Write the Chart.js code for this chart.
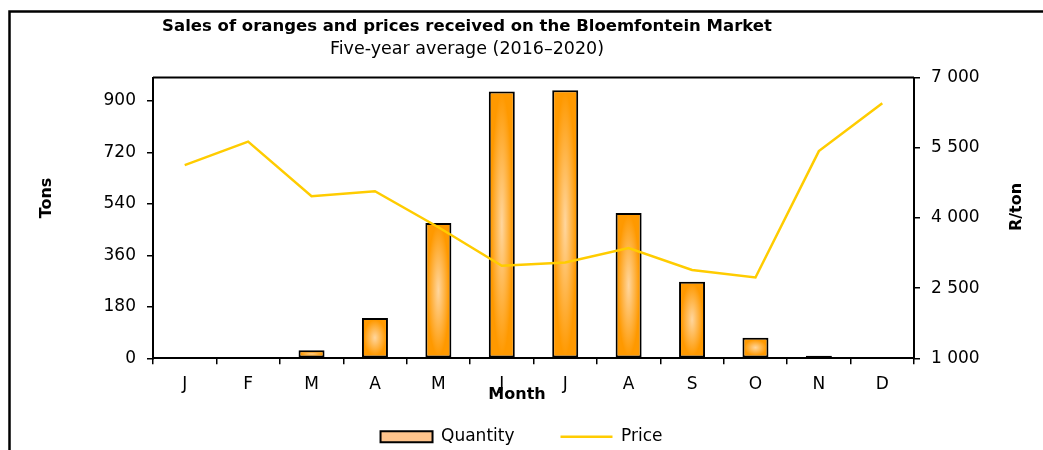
<!DOCTYPE html>
<html>
<head>
<meta charset="utf-8">
<script src="https://cdn.jsdelivr.net/npm/chart.js@4/dist/chart.umd.min.js"></script>
<style>
    html, body { margin: 0; padding: 0; background: #fff; overflow: hidden; }
    #wrap { width: 1043px; height: 450px; position: relative; }
</style>
</head>
<body>
<div id="wrap"><canvas id="orangeChart"></canvas></div>
<script>
// 数据
const months = ['J', 'F', 'M', 'A', 'M', 'J', 'J', 'A', 'S', 'O', 'N', 'D'];
const quantity = [3, 3, 28, 141, 473, 933, 937, 508, 268, 72, 9, 3];
const price = [5127, 5629, 4463, 4570, 3800, 2978, 3049, 3357, 2886, 2727, 5427, 6450];
const tonsTicks = [0, 180, 360, 540, 720, 900];
const randTicks = [1000, 2500, 4000, 5500, 7000];

const FONT = "'DejaVu Sans', sans-serif";

function spaced(v) {
    return String(v).replace(/\B(?=(\d{3})+(?!\d))/g, ' ');
}

// 柱子内部的径向渐变
const barGlow = {
    id: 'barGlow',
    afterDatasetDraw(chart, args) {
        if (args.index !== 0) return;
        const ctx = chart.ctx;
        args.meta.data.forEach(bar => {
            const w = bar.width - 4;
            const top = Math.min(bar.y, bar.base) + 2;
            const h = Math.abs(bar.base - bar.y) - 4;
            if (h < 3 || w < 3) return;
            ctx.save();
            ctx.beginPath();
            ctx.rect(bar.x - w / 2, top, w, h);
            ctx.clip();
            ctx.translate(bar.x, top + h / 2);
            ctx.scale(w / 2, h / 2);
            const g = ctx.createRadialGradient(0, 0, 0, 0, 0, 1);
            g.addColorStop(0, 'rgba(255, 214, 158, 1)');
            g.addColorStop(1, 'rgba(255, 214, 158, 0)');
            ctx.fillStyle = g;
            ctx.fillRect(-1, -1, 2, 2);
            ctx.restore();
        });
    }
};

// 图例上沿往上拉，和 x 轴区域重叠，底边不动
const legendNudge = {
    id: 'legendNudge',
    afterLayout(chart) {
        const lg = chart.legend;
        if (!lg) return;
        lg.top = chart.chartArea.bottom + 24;
        lg.height = lg.bottom - lg.top;
    }
};

// 外框、绘图区上边框、标题和轴标题
const frameAndText = {
    id: 'frameAndText',
    afterDraw(chart) {
        const ctx = chart.ctx;
        const area = chart.chartArea;
        ctx.save();
        ctx.strokeStyle = '#000';
        ctx.lineWidth = 2.5;
        ctx.beginPath();
        ctx.moveTo(9.5, 460);
        ctx.lineTo(9.5, 11.5);
        ctx.lineTo(1060, 11.5);
        ctx.stroke();

        ctx.lineWidth = 2;
        ctx.beginPath();
        ctx.moveTo(area.left, area.top);
        ctx.lineTo(area.right, area.top);
        ctx.stroke();

        ctx.fillStyle = '#000';
        ctx.textAlign = 'center';
        ctx.textBaseline = 'middle';
        ctx.font = 'bold 16.5px ' + FONT;
        ctx.fillText('Sales of oranges and prices received on the Bloemfontein Market', 467, 27);
        ctx.font = '17.5px ' + FONT;
        ctx.fillText('Five-year average (2016–2020)', 467, 49);

        ctx.font = 'bold 16px ' + FONT;
        ctx.fillText('Month', 517, 395);

        ctx.translate(47, 198);
        ctx.rotate(-Math.PI / 2);
        ctx.fillText('Tons', 0, 0);
        ctx.restore();

        ctx.save();
        ctx.fillStyle = '#000';
        ctx.textAlign = 'center';
        ctx.textBaseline = 'middle';
        ctx.font = 'bold 16px ' + FONT;
        ctx.translate(1017, 207);
        ctx.rotate(-Math.PI / 2);
        ctx.fillText('R/ton', 0, 0);
        ctx.restore();
    }
};

const ctx = document.getElementById('orangeChart').getContext('2d');
new Chart(ctx, {
    type: 'bar',
    data: {
        labels: months,
        datasets: [
            {
                label: 'Quantity',
                data: quantity,
                yAxisID: 'y',
                backgroundColor: '#FF9900',
                borderColor: '#000',
                borderWidth: 2,
                borderSkipped: false,
                categoryPercentage: 1,
                barPercentage: 0.41,
                order: 2
            },
            {
                type: 'line',
                label: 'Price',
                data: price,
                yAxisID: 'y1',
                borderColor: '#FFCC00',
                backgroundColor: '#FFCC00',
                borderWidth: 2.5,
                pointRadius: 0,
                tension: 0,
                order: 1
            }
        ]
    },
    options: {
        responsive: true,
        maintainAspectRatio: false,
        animation: false,
        layout: { padding: { top: 77.5, left: 0, right: 0, bottom: 0 } },
        scales: {
            x: {
                afterFit(scale) { scale.height = 40; },
                grid: { drawOnChartArea: false, color: '#000', lineWidth: 1.5, tickLength: 6, offset: true },
                border: { color: '#000', width: 2 },
                ticks: { color: '#000', font: { family: FONT, size: 17 }, padding: 10 }
            },
            y: {
                position: 'left',
                min: 0,
                max: 982,
                afterFit(scale) { scale.width = 153; },
                afterBuildTicks(scale) { scale.ticks = tonsTicks.map(v => ({ value: v })); },
                grid: { drawOnChartArea: false, color: '#000', lineWidth: 1.5, tickLength: 6 },
                border: { color: '#000', width: 2 },
                ticks: { color: '#000', font: { family: FONT, size: 17 }, padding: 11 }
            },
            y1: {
                position: 'right',
                min: 1000,
                max: 7000,
                afterFit(scale) { scale.width = 129; },
                afterBuildTicks(scale) { scale.ticks = randTicks.map(v => ({ value: v })); },
                grid: { drawOnChartArea: false, color: '#000', lineWidth: 1.5, tickLength: 6 },
                border: { color: '#000', width: 2 },
                ticks: {
                    color: '#000',
                    font: { family: FONT, size: 17 },
                    padding: 11,
                    callback: v => spaced(v)
                }
            }
        },
        plugins: {
            legend: {
                position: 'bottom',
                maxHeight: 51.7,
                labels: {
                    color: '#000',
                    font: { family: FONT, size: 17 },
                    usePointStyle: true,
                    pointStyleWidth: 52,
                    boxHeight: 11,
                    padding: 46,
                    sort: (a, b) => a.datasetIndex - b.datasetIndex,
                    generateLabels(chart) {
                        const items = Chart.defaults.plugins.legend.labels.generateLabels(chart);
                        items.forEach(item => {
                            if (item.datasetIndex === 0) {
                                item.pointStyle = 'rect';
                                item.fillStyle = '#FFC48C';
                                item.strokeStyle = '#000';
                                item.lineWidth = 2;
                            } else {
                                item.pointStyle = 'line';
                                item.strokeStyle = '#FFCC00';
                                item.lineWidth = 2.5;
                            }
                        });
                        return items;
                    }
                }
            },
            tooltip: { enabled: false }
        }
    },
    plugins: [barGlow, legendNudge, frameAndText]
});
</script>
</body>
</html>
